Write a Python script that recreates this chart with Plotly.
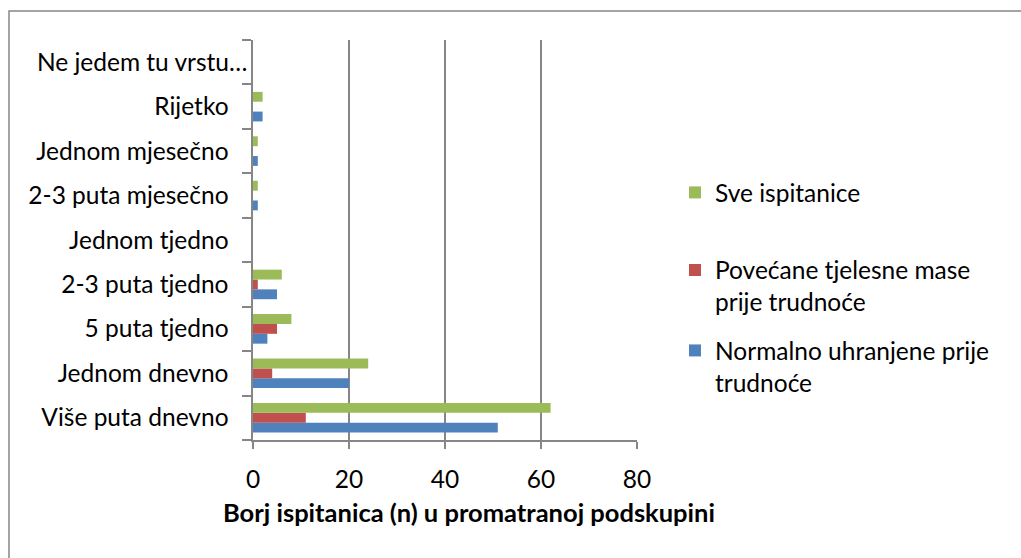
import plotly.graph_objects as go

categories = ["Više puta dnevno", "Jednom dnevno", "5 puta tjedno", "2-3 puta tjedno",
              "Jednom tjedno", "2-3 puta mjesečno", "Jednom mjesečno", "Rijetko",
              "Ne jedem tu vrstu…"]
tick_labels = ["Više puta dnevno", "Jednom dnevno", "5 puta tjedno", "2-3 puta tjedno",
               "Jednom tjedno", "2-3 puta mjesečno", "Jednom mjesečno", "Rijetko",
               "Ne jedem tu vrstu…"]
normalno = [51, 20, 3, 5, 0, 1, 1, 2, 0]
povecane = [11, 4, 5, 1, 0, 0, 0, 0, 0]
sve = [62, 24, 8, 6, 0, 1, 1, 2, 0]

series_names = ["Normalno uhranjene prije<br>trudnoće",
                "Povećane tjelesne mase<br>prije trudnoće",
                "Sve ispitanice"]
colors = ["#4F81BD", "#C0504D", "#9BBB59"]
x_ticks = [0, 20, 40, 60, 80]

FONT = "Lato"
FS = 24.5
W, H = 1021, 558
L, R, T, B = 253, 637, 40, 440

# pad tick labels so that regular labels end ~18px further from the axis
pad = "\u00a0" * 3
ticktext = [t + pad if not t.endswith("…") else t for t in tick_labels]

fig = go.Figure()
legends = ["legend3", "legend2", "legend"]
for vals, name, col, lg in zip([normalno, povecane, sve], series_names, colors, legends):
    fig.add_trace(go.Bar(
        y=categories, x=vals, name=name, orientation="h",
        marker=dict(color=col, line=dict(width=0)),
        legend=lg, showlegend=True,
    ))

legend_common = dict(xref="container", yref="container", xanchor="left", yanchor="middle",
                     font=dict(family=FONT, size=FS, color="#000000"),
                     bgcolor="rgba(0,0,0,0)", borderwidth=0, valign="top", visible=True)
LX = (724 - 49) / W

fig.update_layout(
    width=W, height=H, showlegend=True,
    margin=dict(l=L, r=W - R, t=T, b=H - B, pad=0, autoexpand=False),
    paper_bgcolor="white", plot_bgcolor="white",
    barmode="group", bargap=0.335, bargroupgap=0,
    font=dict(family=FONT, size=FS, color="#000000"),
    legend=dict(x=LX, y=1 - 192.5 / H, **legend_common),
    legend2=dict(x=LX, y=1 - 286 / H, **legend_common),
    legend3=dict(x=LX, y=1 - 366.5 / H, **legend_common),
    xaxis=dict(range=[0, 80], tickvals=x_ticks, showgrid=True, gridcolor="#868686", gridwidth=1.5,
               showline=True, linecolor="#868686", linewidth=1.5, zeroline=False,
               ticks="outside", ticklen=7, tickcolor="#868686", tickwidth=1.5, automargin=False,
               tickfont=dict(family=FONT, size=FS), ticklabelstandoff=10, fixedrange=True),
    yaxis=dict(type="category", categoryorder="array", categoryarray=categories,
               tickvals=categories, ticktext=ticktext, tickson="boundaries",
               showgrid=False, showline=True, linecolor="#868686", linewidth=1.5,
               ticks="outside", ticklen=9, tickcolor="#868686", tickwidth=1.5, automargin=False,
               tickfont=dict(family=FONT, size=FS), ticklabelstandoff=-1, fixedrange=True),
    annotations=[dict(text="<b>Borj ispitanica (n) u promatranoj podskupini</b>",
                      xref="paper", yref="paper", x=(469 - L) / (R - L), y=(B - 512) / (B - T),
                      xanchor="center", yanchor="middle", showarrow=False,
                      font=dict(family=FONT, size=25.5, color="#000000"))],
    shapes=[dict(type="rect", xref="paper", yref="paper",
                 x0=(9 - L) / (R - L), x1=(1040 - L) / (R - L),
                 y0=(B - 580) / (B - T), y1=(B - 11) / (B - T),
                 line=dict(color="#878787", width=1.5), fillcolor="rgba(0,0,0,0)", layer="below")],
)

fig.write_html("out.html", config={"displayModeBar": False},
               post_script="document.body.style.margin='0';document.body.style.overflow='hidden';")
